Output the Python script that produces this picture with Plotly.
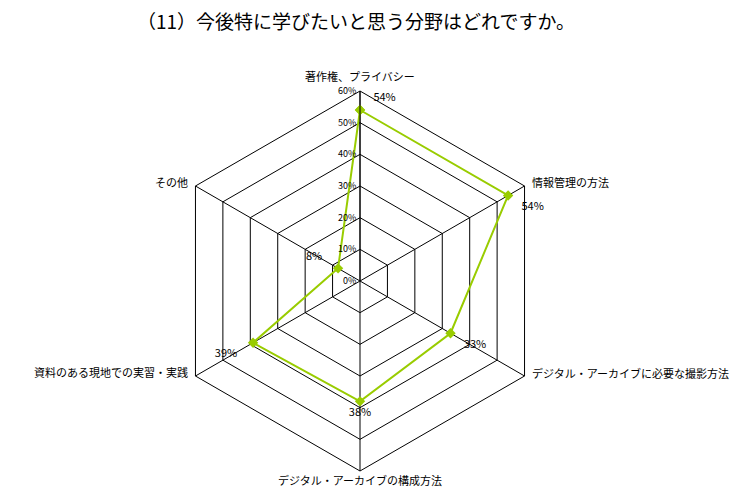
import plotly.graph_objects as go

# survey question (11): fields respondents want to learn
categories = ["著作権、プライバシー", "情報管理の方法", "デジタル・アーカイブに必要な撮影方法",
              "デジタル・アーカイブの構成方法", "資料のある現地での実習・実践", "その他"]
values = [54, 54, 33, 38, 39, 8]
label_pos = ["top right", "bottom right", "bottom right", "bottom center", "bottom left", "top left"]
tick_vals = [0, 10, 20, 30, 40, 50, 60]
tick_text = ["0%", "10%", "20%", "30%", "40%", "50%", "60%"]

green = "#99CC00"
jp_font = "Noto Sans CJK JP"

# pad the value labels a bit so they sit off the points like in excel
pad = "\u00a0"
labels = []
for v, pos in zip(values, label_pos):
    t = str(v) + "%"
    if pos.endswith("right"):
        t = pad * 3 + t
    elif pos.endswith("left"):
        t = t + pad * 4
    labels.append(t)

fig = go.Figure()
fig.add_trace(go.Scatterpolar(
    r=values + values[:1],
    theta=categories + categories[:1],
    mode="lines+markers+text",
    text=labels + [""],
    textposition=label_pos + ["top center"],
    textfont=dict(family=jp_font, size=11, color="black"),
    line=dict(color=green, width=2),
    marker=dict(symbol="diamond", size=8, color=green),
    cliponaxis=False,
    showlegend=False,
))

# category names placed like the excel chart (page body adds an 8px offset)
ann_spots = [(360, 76, "center"), (530, 182, "left"), (530, 373, "left"),
             (360, 480, "center"), (190, 372, "right"), (190, 182, "right")]
for name, (px_, py_, anchor) in zip(categories, ann_spots):
    fig.add_annotation(text=name, x=(px_ - 8) / 750, y=1 - (py_ - 8) / 500,
                       xref="paper", yref="paper", xanchor=anchor, yanchor="middle",
                       showarrow=False, font=dict(family=jp_font, size=11, color="black"))

fig.update_layout(
    width=750, height=500,
    margin=dict(l=0, r=0, t=0, b=0),
    paper_bgcolor="white",
    font=dict(family=jp_font, color="black"),
    title=dict(text="（11）今後特に学びたいと思う分野はどれですか。",
               x=348/750, xanchor="center", y=1-14/500, yanchor="middle",
               font=dict(family=jp_font, size=19, color="black")),
    polar=dict(
        domain=dict(x=[162/750, 542/750], y=[1-463/500, 1-83/500]),
        bgcolor="white",
        gridshape="linear",
        angularaxis=dict(rotation=90, direction="clockwise",
                         showline=True, linecolor="black", linewidth=1,
                         gridcolor="black", gridwidth=1,
                         ticks="", showticklabels=False),
        radialaxis=dict(range=[0, 60], angle=90, side="counterclockwise",
                        tickvals=tick_vals, ticktext=tick_text,
                        tickfont=dict(family=jp_font, size=9),
                        tickangle=90,
                        showline=True, linecolor="black", linewidth=1,
                        gridcolor="black", gridwidth=1, ticks=""),
    ),
)

fig.write_html("out.html")
